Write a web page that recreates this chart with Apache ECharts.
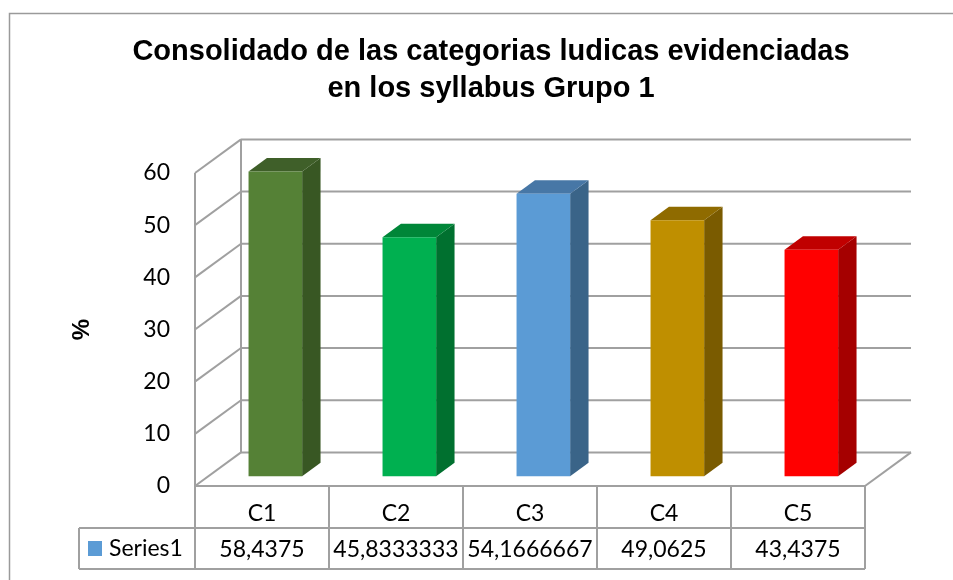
<!DOCTYPE html>
<html>
<head>
<meta charset="utf-8">
<script src="https://cdn.jsdelivr.net/npm/echarts@6/dist/echarts.min.js"></script>
<style>
html, body { margin: 0; padding: 0; background: #fff; }
#chart { width: 953px; height: 580px; }
</style>
</head>
<body>
<div id="chart"></div>
<script>
var categories = ['C1', 'C2', 'C3', 'C4', 'C5'];
var values = [58.4375, 45.8333333, 54.1666667, 49.0625, 43.4375];
var yTicks = [0, 10, 20, 30, 40, 50, 60];
var frontColors = ['#558136', '#00b050', '#5b9bd5', '#bf8f00', '#ff0000'];
var sideColors = ['#385723', '#00702f', '#3a6488', '#7a5b00', '#a50000'];
var topColors = ['#3f5f29', '#008638', '#4777a6', '#8f6b00', '#c00000'];

// oblique 3d look: offset of the back wall from the front plane
var DEPTH = [46, -33.6];
var BAR_FRONT = 0.29;
var BAR_DEPTH = 0.4;
var LINE = '#a0a0a0';
var FONT = 'Lato';
var TABLE_LEFT = 79;

function line(x1, y1, x2, y2) {
  return {
    type: 'line',
    shape: { x1: x1, y1: y1, x2: x2, y2: y2 },
    style: { stroke: LINE, lineWidth: 2 }
  };
}

function renderWall(params, api) {
  var cs = params.coordSys;
  var y = api.coord([0, api.value(1)])[1];
  var xl = cs.x, xr = cs.x + cs.width;
  var dx = DEPTH[0], dy = DEPTH[1];
  var children = [
    line(xl, y, xl + dx, y + dy),
    line(xl + dx, y + dy, xr + dx, y + dy)
  ];
  if (params.dataIndex === 0) {
    children.push(line(xl, y, xl, cs.y));
    children.push(line(xl + dx, y + dy, xl + dx, cs.y + dy));
    children.push(line(xl, y, xr, y));
    children.push(line(xr, y, xr + dx, y + dy));
  }
  return { type: 'group', children: children };
}

function renderBar(params, api) {
  var i = api.value(0);
  var base = api.coord([i, 0]);
  var top = api.coord([i, api.value(1)]);
  var bw = api.size([1, 0])[0] * 0.4;
  var fx = DEPTH[0] * BAR_FRONT, fy = DEPTH[1] * BAR_FRONT;
  var sx = DEPTH[0] * BAR_DEPTH, sy = DEPTH[1] * BAR_DEPTH;
  var x0 = base[0] - bw / 2 + fx, x1 = base[0] + bw / 2 + fx;
  var yb = base[1] + fy, yt = top[1] + fy;
  return {
    type: 'group',
    children: [
      {
        type: 'polygon',
        shape: { points: [[x1, yt], [x1 + sx, yt + sy], [x1 + sx, yb + sy], [x1, yb]] },
        style: { fill: sideColors[i] }
      },
      {
        type: 'polygon',
        shape: { points: [[x0, yt], [x1, yt], [x1 + sx, yt + sy], [x0 + sx, yt + sy]] },
        style: { fill: topColors[i] }
      },
      {
        type: 'rect',
        shape: { x: x0, y: yt, width: x1 - x0, height: yb - yt },
        style: { fill: frontColors[i] }
      }
    ]
  };
}

function renderTable(params, api) {
  var cs = params.coordSys;
  var i = api.value(0);
  var c = api.coord([i, 0]);
  var bw = api.size([1, 0])[0];
  var xl = c[0] - bw / 2, xr = c[0] + bw / 2;
  var y0 = cs.y + cs.height, y1 = y0 + 42, y2 = y0 + 83;
  var children = [
    line(xr, y0, xr, y2),
    line(xl, y1, xr, y1),
    line(xl, y2, xr, y2),
    {
      type: 'text',
      x: c[0],
      y: (y1 + y2) / 2 + 1,
      style: {
        text: String(api.value(1)).replace('.', ','),
        fill: '#000',
        font: '23px ' + FONT,
        align: 'center', verticalAlign: 'middle',
        textAlign: 'center', textVerticalAlign: 'middle'
      }
    }
  ];
  if (params.dataIndex === 0) {
    children.push(line(xl, y0, xl, y2));
    children.push(line(TABLE_LEFT, y1, xl, y1));
    children.push(line(TABLE_LEFT, y2, xl, y2));
    children.push(line(TABLE_LEFT, y1, TABLE_LEFT, y2));
  }
  return { type: 'group', children: children };
}

var chart = echarts.init(document.getElementById('chart'));
chart.setOption({
  animation: false,
  backgroundColor: '#fff',
  title: {
    text: 'Consolidado de las categorias ludicas evidenciadas\nen los syllabus Grupo 1',
    left: 486,
    textAlign: 'center',
    top: 28,
    textStyle: {
      fontFamily: 'Liberation Sans',
      fontWeight: 'bold',
      fontSize: 29,
      lineHeight: 37,
      color: '#000'
    }
  },
  graphic: [{
    type: 'rect',
    left: 7,
    top: 11,
    shape: { width: 1000, height: 600 },
    style: { fill: 'none', stroke: '#9a9a9a', lineWidth: 1.5 },
    silent: true
  }],
  legend: {
    data: [{ name: 'Series1', icon: 'rect' }],
    left: 88,
    top: 537,
    padding: 0,
    itemWidth: 14,
    itemHeight: 15,
    selectedMode: false,
    textStyle: { fontFamily: FONT, fontSize: 23, color: '#000', padding: [0, 0, 0, 2] }
  },
  grid: { left: 195, right: 88, top: 173, bottom: 94 },
  xAxis: {
    type: 'category',
    data: categories,
    axisLine: { show: false },
    axisTick: { show: false },
    axisLabel: { margin: 16, lineHeight: 24, fontFamily: FONT, fontSize: 23, color: '#000' }
  },
  yAxis: {
    type: 'value',
    min: 0,
    max: 60,
    interval: 10,
    name: '%',
    nameLocation: 'middle',
    nameGap: 101,
    nameRotate: 90,
    nameTextStyle: { fontFamily: 'Liberation Sans', fontWeight: 'bold', fontSize: 24, color: '#000' },
    splitLine: { show: false },
    axisLine: { show: false },
    axisTick: { show: false },
    axisLabel: { margin: 25, fontFamily: FONT, fontSize: 23, color: '#000' }
  },
  series: [
    {
      type: 'custom',
      name: 'walls',
      z: 1,
      silent: true,
      renderItem: renderWall,
      data: yTicks.map(function (t) { return [0, t]; })
    },
    {
      type: 'custom',
      name: 'Series1',
      z: 3,
      color: '#5b9bd5',
      itemStyle: { color: '#5b9bd5' },
      renderItem: renderBar,
      data: values.map(function (v, i) { return [i, v]; })
    },
    {
      type: 'custom',
      name: 'table',
      z: 1,
      silent: true,
      renderItem: renderTable,
      data: values.map(function (v, i) { return [i, v]; })
    }
  ]
});
</script>
</body>
</html>
